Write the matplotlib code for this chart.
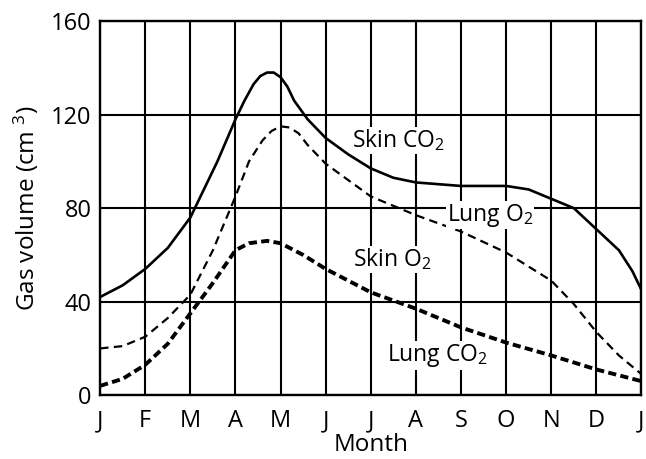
import matplotlib
matplotlib.use("Agg")
import matplotlib.pyplot as plt

# ============ Data ============
month_labels = ["J", "F", "M", "A", "M", "J", "J", "A", "S", "O", "N", "D", "J"]

skin_co2_x = [0, 0.5, 1, 1.5, 2, 2.3, 2.6, 3, 3.2, 3.4, 3.55, 3.7, 3.85, 4, 4.15,
              4.3, 4.6, 5, 5.5, 6, 6.5, 7, 8, 9, 9.5, 10, 10.5, 11, 11.5, 11.8, 12]
skin_co2_y = [42, 47, 54, 63, 76, 88, 100, 118, 126, 133, 136.5, 138, 138, 136, 132,
              126, 118, 110, 103, 97, 93, 91, 89.5, 89.5, 88, 84, 80, 71, 62, 53, 45]

lung_o2_x = [0, 0.5, 1, 1.5, 2, 2.5, 3, 3.3, 3.6, 3.8, 4, 4.2, 4.4, 4.6, 5,
             6, 7, 8, 9, 10, 10.5, 11, 11.5, 12]
lung_o2_y = [20, 21, 25, 33, 43, 62, 85, 100, 109, 113, 115, 114.5, 112, 107, 99,
             85, 77, 70, 61, 49, 39, 27, 17, 9]

lung_co2_x = [0, 0.5, 1, 1.5, 2, 2.5, 3, 3.3, 3.7, 4, 4.5, 5, 5.5,
              6, 7, 8, 9, 10, 11, 12]
lung_co2_y = [4, 7, 13, 22, 35, 48, 62, 65, 66, 65, 60, 54, 49,
              44, 37, 29, 22.5, 17, 11, 6]

y_ticks = [0, 40, 80, 120, 160]

# ============ Style ============
plt.rcParams["font.family"] = ["Open Sans", "DejaVu Sans"]
plt.rcParams["mathtext.fontset"] = "custom"
plt.rcParams["mathtext.rm"] = "Open Sans"
plt.rcParams["mathtext.it"] = "Open Sans"

fig = plt.figure(figsize=(6.46, 4.59), dpi=100)
ax = fig.add_axes([0.155, 0.139, 0.838, 0.815])

months = list(range(len(month_labels)))

ax.plot(skin_co2_x, skin_co2_y, color="black", lw=1.9)
ax.plot(lung_o2_x, lung_o2_y, color="black", lw=1.6, dashes=(3.8, 2.4))
ax.plot(lung_co2_x, lung_co2_y, color="black", lw=2.8, dashes=(2.1, 1.1))

ax.set_xlim(0, 12)
ax.set_ylim(0, 160)
ax.set_xticks(months)
ax.set_xticklabels(month_labels)
ax.set_yticks(y_ticks)
ax.tick_params(length=0, labelsize=17, colors="black")
ax.tick_params(axis="x", pad=10)
ax.tick_params(axis="y", pad=6)
ax.grid(True, color="black", lw=1.5)
ax.set_axisbelow(True)
for s in ax.spines.values():
    s.set_linewidth(1.7)
    s.set_color("black")

ax.set_xlabel("Month", fontsize=17.5, labelpad=0)
ax.set_ylabel("Gas volume (cm $^3$)", fontsize=17.5, labelpad=7)

box = dict(facecolor="white", edgecolor="none", pad=0.5)
ax.text(5.58, 109, "Skin CO$_2$", fontsize=16.5, ha="left", va="center", bbox=box)
ax.text(7.68, 77, "Lung O$_2$", fontsize=16.5, ha="left", va="center", bbox=box)
ax.text(5.6, 58, "Skin O$_2$", fontsize=16.5, ha="left", va="center", bbox=box)
ax.text(6.35, 17, "Lung CO$_2$", fontsize=16.5, ha="left", va="center", bbox=box)

fig.savefig("out.png", dpi=100)
